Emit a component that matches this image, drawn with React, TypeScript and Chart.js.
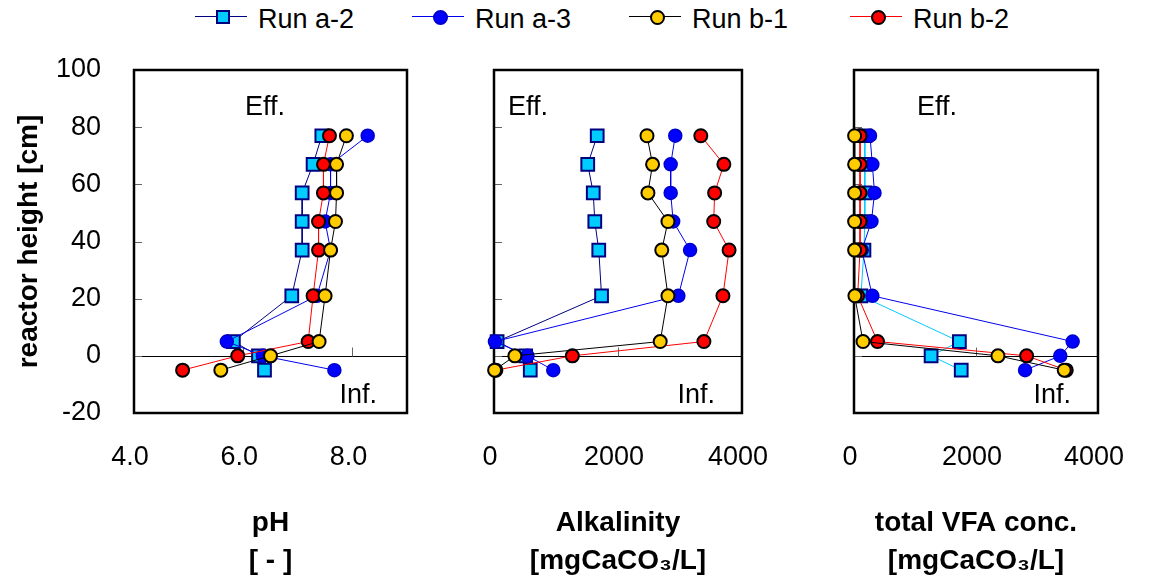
import React, { useEffect, useRef } from 'react';
import { Chart, registerables } from 'chart.js';

Chart.register(...registerables);

const FONT = '"Liberation Sans", Arial, Helvetica, sans-serif';

// ---------- data ----------
const runNames = ['Run a-2', 'Run a-3', 'Run b-1', 'Run b-2'];
const heights = [77, 67, 57, 47, 37, 21, 5, 0, -5];

const phA2 = [7.44, 7.28, 7.08, 7.08, 7.08, 6.89, 5.82, 6.28, 6.39];
const phA3 = [8.28, 7.6, 7.6, 7.5, 7.6, 7.35, 5.7, 6.36, 7.67];
const phB1 = [7.89, 7.71, 7.71, 7.69, 7.6, 7.5, 7.39, 6.5, 5.59];
const phB2 = [7.58, 7.47, 7.47, 7.38, 7.38, 7.28, 7.19, 5.9, 4.89];

const alkA2 = [1665, 1512, 1601, 1626, 1690, 1735, 50, 511, 585];
const alkA3 = [2924, 2850, 2850, 2890, 3163, 2974, 15, 540, 956];
const alkB1 = [2468, 2558, 2483, 2806, 2706, 2806, 2681, 337, 10];
const alkB2 = [3336, 3708, 3559, 3544, 3792, 3693, 3386, 1264, 30];

const vfaA2 = [180, 180, 180, 170, 163, 114, 1728, 1264, 1758];
const vfaA3 = [262, 301, 336, 286, 128, 301, 3585, 3382, 2805];
const vfaB1 = [10, 10, 10, 10, 10, 15, 148, 2360, 3447];
const vfaB2 = [99, 99, 99, 99, 99, 60, 385, 2830, 3480];

const yTicks = [-20, 0, 20, 40, 60, 80, 100];
const phTicks = [4, 6, 8];
const alkTicks = [0, 2000, 4000];
const vfaTicks = [0, 2000, 4000];

const yTitle = 'reactor height [cm]';
const phTitle = ['pH', '[ - ]'];
const alkTitle = ['Alkalinity', '[mgCaCO\u2083/L]'];
const vfaTitle = ['total VFA conc.', '[mgCaCO\u2083/L]'];
const effLabel = 'Eff.';
const infLabel = 'Inf.';

// ---------- styles ----------
const styles = [
  { fill: '#00CCFF', border: '#000080', line: '#000080', shape: 'rect', radius: 9, bw: 2, legendShape: 'square' },
  { fill: '#0000FF', border: '#0000CC', line: '#0000EE', shape: 'circle', radius: 6.5, bw: 1.5, legendShape: 'circle' },
  { fill: '#FFCC00', border: '#000000', line: '#000000', shape: 'circle', radius: 6.5, bw: 2, legendShape: 'circle' },
  { fill: '#FF0000', border: '#000000', line: '#FF0000', shape: 'circle', radius: 6.5, bw: 2, legendShape: 'circle' },
];
const drawOrder = [4, 3, 1, 2];
const legendLeft = [195, 412, 629, 850];

type PanelSpec = {
  key: string;
  left: number;
  width: number;
  padL: number;
  padR: number;
  xMin: number;
  xMax: number;
  xTicks: number[];
  decimals: number;
  title: string[];
  series: number[][];
  showY: boolean;
  effX: number;
  infX: number;
  a2Line: string;
};

const panels: PanelSpec[] = [
  { key: 'ph', left: 0, width: 430, padL: 0, padR: 23, xMin: 4, xMax: 9, xTicks: phTicks, decimals: 1, title: phTitle, series: [phA2, phA3, phB1, phB2], showY: true, effX: 111, infX: 30, a2Line: '#000080' },
  { key: 'alk', left: 430, width: 370, padL: 64, padR: 36, xMin: 0, xMax: 4000, xTicks: alkTicks, decimals: 0, title: alkTitle, series: [alkA2, alkA3, alkB1, alkB2], showY: false, effX: 14, infX: 27, a2Line: '#000080' },
  { key: 'vfa', left: 790, width: 366, padL: 64, padR: 32, xMin: 0, xMax: 4000, xTicks: vfaTicks, decimals: 0, title: vfaTitle, series: [vfaA2, vfaA3, vfaB1, vfaB2], showY: false, effX: 63, infX: 27, a2Line: '#00CCFF' },
];

const framePlugin = {
  id: 'frame',
  beforeDatasetsDraw(chart: any, _args: any, opts: any) {
    const { ctx, chartArea: a, scales } = chart;
    const xs = scales.x;
    const ys = scales.y;
    ctx.save();
    const y0 = Math.round(ys.getPixelForValue(0)) + 0.5;
    ctx.strokeStyle = '#000';
    ctx.lineWidth = 1;
    ctx.beginPath();
    ctx.moveTo(a.left, y0);
    ctx.lineTo(a.right, y0);
    ctx.stroke();

    ctx.strokeStyle = '#666';
    ctx.beginPath();
    (opts.yTicks as number[]).forEach((v) => {
      if (v <= ys.min || v >= ys.max) return;
      const py = Math.round(ys.getPixelForValue(v)) + 0.5;
      ctx.moveTo(a.left, py);
      ctx.lineTo(a.left + 8, py);
    });
    (opts.xTicks as number[]).forEach((v) => {
      if (v <= xs.min || v >= xs.max) return;
      const px = Math.round(xs.getPixelForValue(v)) + 0.5;
      ctx.moveTo(px, y0);
      ctx.lineTo(px, y0 - 9);
    });
    ctx.stroke();

    ctx.strokeStyle = '#000';
    ctx.lineWidth = 2.5;
    ctx.strokeRect(a.left, a.top, a.right - a.left, a.bottom - a.top);

    ctx.font = `27px ${FONT}`;
    ctx.fillStyle = '#000';
    ctx.textBaseline = 'middle';
    ctx.textAlign = 'left';
    ctx.fillText(effLabel, a.left + opts.effX, a.top + 38);
    ctx.textAlign = 'right';
    ctx.fillText(infLabel, a.right - opts.infX, a.bottom - 17);
    ctx.restore();
  },
};

function buildConfig(p: PanelSpec): any {
  const datasets = p.series.map((vals, i) => {
    const s = styles[i];
    return {
      label: runNames[i],
      data: heights.map((h, j) => ({ x: vals[j], y: h })),
      showLine: true,
      borderColor: i === 0 ? p.a2Line : s.line,
      borderWidth: 1,
      backgroundColor: s.fill,
      pointBackgroundColor: s.fill,
      pointBorderColor: s.border,
      pointBorderWidth: s.bw,
      pointRadius: s.radius,
      pointHoverRadius: s.radius,
      pointStyle: s.shape,
      order: drawOrder[i],
      clip: false,
      tension: 0,
    };
  });
  return {
    type: 'scatter',
    data: { datasets },
    options: {
      responsive: false,
      animation: false,
      events: [],
      layout: { padding: { top: 70, bottom: 0, left: p.padL, right: p.padR } },
      plugins: {
        legend: { display: false },
        tooltip: { enabled: false },
        frame: { effX: p.effX, infX: p.infX, xTicks: p.xTicks, yTicks },
      },
      scales: {
        x: {
          type: 'linear',
          position: 'bottom',
          min: p.xMin,
          max: p.xMax,
          grid: { display: false, drawTicks: false },
          border: { display: false },
          afterBuildTicks: (s: any) => {
            s.ticks = p.xTicks.map((v) => ({ value: v }));
          },
          afterFit: (s: any) => {
            s.height = 167;
          },
          ticks: {
            padding: 28,
            color: '#000',
            font: { family: FONT, size: 27 },
            labelOffset: -4,
            maxRotation: 0,
            minRotation: 0,
            autoSkip: false,
            callback: (v: number) => Number(v).toFixed(p.decimals),
          },
          title: {
            display: true,
            text: p.title,
            color: '#000',
            font: { family: FONT, size: 28, weight: 'bold', lineHeight: 1.34 },
            padding: { top: 0, bottom: 0 },
          },
        },
        y: {
          type: 'linear',
          position: 'left',
          min: -20,
          max: 100,
          display: p.showY,
          grid: { display: false, drawTicks: false },
          border: { display: false },
          afterBuildTicks: (s: any) => {
            s.ticks = yTicks.map((v) => ({ value: v }));
          },
          afterFit: (s: any) => {
            if (p.showY) s.width = 134;
          },
          ticks: {
            padding: 33,
            color: '#000',
            font: { family: FONT, size: 27 },
            autoSkip: false,
            callback: (v: number) => String(v),
          },
          title: {
            display: true,
            text: yTitle,
            color: '#000',
            font: { family: FONT, size: 28, weight: 'bold' },
            padding: { top: 12, bottom: 0 },
          },
        },
      },
    },
    plugins: [framePlugin],
  };
}

function Panel({ spec }: { spec: PanelSpec }) {
  const ref = useRef<HTMLCanvasElement>(null);
  useEffect(() => {
    const chart = new Chart(ref.current as HTMLCanvasElement, buildConfig(spec));
    return () => chart.destroy();
  }, [spec]);
  return (
    <canvas
      ref={ref}
      width={spec.width}
      height={580}
      style={{ position: 'absolute', left: spec.left, top: 0, width: spec.width, height: 580 }}
    />
  );
}

function LegendItem({ i }: { i: number }) {
  const s = styles[i];
  const size = s.legendShape === 'square' ? 14 : 15;
  return (
    <div style={{ position: 'absolute', left: legendLeft[i], top: 0, width: 210, height: 38 }}>
      <div style={{ position: 'absolute', left: 0, top: 16, width: 52, height: 0, borderTop: `1.5px solid ${s.line}` }} />
      <div
        style={{
          position: 'absolute',
          left: 28 - size / 2,
          top: 17 - size / 2,
          width: size,
          height: size,
          boxSizing: 'border-box',
          background: s.fill,
          border: `2px solid ${s.border}`,
          borderRadius: s.legendShape === 'circle' ? '50%' : 0,
        }}
      />
      <span
        style={{
          position: 'absolute',
          left: 63,
          top: 6,
          fontSize: 27,
          lineHeight: '27px',
          whiteSpace: 'nowrap',
          color: '#000',
          fontFamily: FONT,
        }}
      >
        {runNames[i]}
      </span>
    </div>
  );
}

export default function App() {
  return (
    <div
      style={{
        position: 'absolute',
        left: 0,
        top: 0,
        width: 1156,
        height: 580,
        background: '#fff',
        overflow: 'hidden',
        fontFamily: FONT,
      }}
    >
      {runNames.map((_, i) => (
        <LegendItem key={i} i={i} />
      ))}
      {panels.map((p) => (
        <Panel key={p.key} spec={p} />
      ))}
    </div>
  );
}
